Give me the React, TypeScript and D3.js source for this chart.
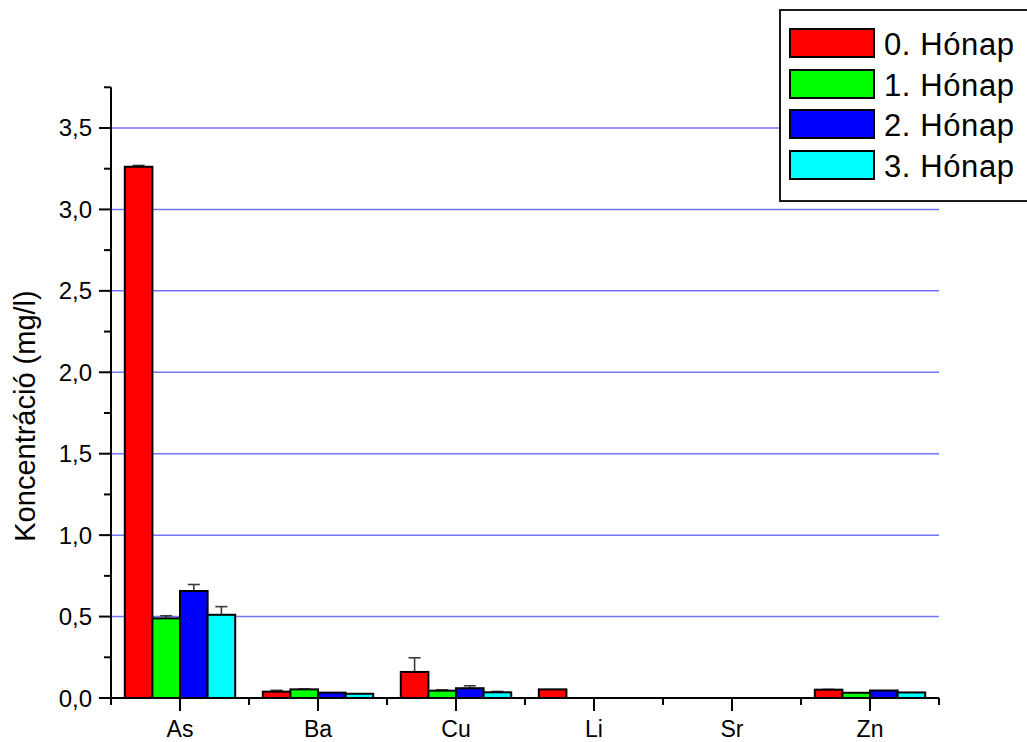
import React from "react";
import * as d3 from "d3";

const categories = ["As", "Ba", "Cu", "Li", "Sr", "Zn"];
const seriesNames = ["0. Hónap", "1. Hónap", "2. Hónap", "3. Hónap"];
const seriesColors = ["#ff0000", "#00ff00", "#0000ff", "#00ffff"];
const month0 = [3.262, 0.039, 0.16, 0.053, 0, 0.051];
const month1 = [0.489, 0.053, 0.045, 0, 0, 0.032];
const month2 = [0.657, 0.033, 0.06, 0, 0, 0.046];
const month3 = [0.511, 0.026, 0.035, 0, 0, 0.034];
const err0 = [0.008, 0.008, 0.087, 0, 0, 0.002];
const err1 = [0.016, 0.002, 0.005, 0, 0, 0];
const err2 = [0.04, 0, 0.015, 0, 0, 0];
const err3 = [0.05, 0, 0.005, 0, 0, 0];
const yMajorTicks = [0, 0.5, 1, 1.5, 2, 2.5, 3, 3.5];
const yMinorTicks = [0.25, 0.75, 1.25, 1.75, 2.25, 2.75, 3.25, 3.75];

const values = [month0, month1, month2, month3];
const errors = [err0, err1, err2, err3];

const FONT = "'Liberation Sans', Arial, sans-serif";

export default function App() {
  const left = 111, right = 939, bottom = 698;
  const x = d3.scaleBand<string>().domain(categories).range([left, right]).padding(0);
  const bw = x.bandwidth();
  const xs = d3.scaleBand<string>().domain(seriesNames).range([bw * 0.1, bw * 0.9]).padding(0);
  const y = d3.scaleLinear().domain([0, 3.75]).range([bottom, bottom - 3.75 * 162.86]);
  const fmt = (v: number) => d3.format(".1f")(v).replace(".", ",");

  return (
    <svg width={1027} height={742} style={{ position: "absolute", left: 0, top: 0, background: "#fff" }} fontFamily={FONT}>
      {/* gridlines */}
      {yMajorTicks.filter((t) => t > 0).map((t) => (
        <line key={"g" + t} x1={left} x2={right} y1={y(t)} y2={y(t)} stroke="#7474ff" strokeWidth={1.5} />
      ))}
      {/* bars */}
      {values.map((vals, si) =>
        vals.map((v, ci) => {
          if (v <= 0) return null;
          const bx = (x(categories[ci]) as number) + (xs(seriesNames[si]) as number);
          const w = xs.bandwidth();
          const top = y(v);
          const e = errors[si][ci];
          const cx = bx + w / 2;
          return (
            <g key={`b${si}-${ci}`}>
              {e > 0 && (
                <g stroke="#3a3a3a" strokeWidth={1.6}>
                  <line x1={cx} x2={cx} y1={top} y2={y(v + e)} />
                  <line x1={cx - 6} x2={cx + 6} y1={y(v + e)} y2={y(v + e)} />
                </g>
              )}
              <rect x={bx} y={top} width={w} height={bottom - top} fill={seriesColors[si]} stroke="#000" strokeWidth={2} />
            </g>
          );
        })
      )}
      {/* y axis */}
      <line x1={left} x2={left} y1={y(3.75)} y2={bottom} stroke="#000" strokeWidth={2} />
      {yMajorTicks.map((t) => (
        <g key={"yt" + t}>
          <line x1={left - 12} x2={left} y1={y(t)} y2={y(t)} stroke="#000" strokeWidth={2} />
          <text x={92} y={y(t) + 8.5} textAnchor="end" fontSize={24} fill="#000">
            {fmt(t)}
          </text>
        </g>
      ))}
      {yMinorTicks.map((t) => (
        <line key={"ym" + t} x1={left - 7} x2={left} y1={y(t)} y2={y(t)} stroke="#000" strokeWidth={2} />
      ))}
      {/* x axis */}
      <line x1={left} x2={right} y1={bottom} y2={bottom} stroke="#000" strokeWidth={2} />
      {categories.map((c) => {
        const cx = (x(c) as number) + bw / 2;
        return (
          <g key={"xt" + c}>
            <line x1={cx} x2={cx} y1={bottom} y2={bottom + 13} stroke="#000" strokeWidth={2} />
            <text x={cx} y={737} textAnchor="middle" fontSize={23} fill="#000">
              {c}
            </text>
          </g>
        );
      })}
      {categories.concat(["_end"]).map((c, i) => {
        const bx = left + i * bw;
        return <line key={"xm" + i} x1={bx} x2={bx} y1={bottom} y2={bottom + 7} stroke="#000" strokeWidth={2} />;
      })}
      {/* y axis title */}
      <text transform={`translate(35,${416}) rotate(-90)`} textAnchor="middle" fontSize={29} fill="#000">
        Koncentráció (mg/l)
      </text>
      {/* legend */}
      <rect x={780} y={10} width={260} height={191} fill="#fff" stroke="#1a1a1a" strokeWidth={2} />
      {seriesNames.map((s, i) => {
        const tops = [29, 70, 110, 151];
        return (
          <g key={"lg" + s}>
            <rect x={790} y={tops[i]} width={84} height={28} fill={seriesColors[i]} stroke="#000" strokeWidth={2} />
            <text x={884} y={tops[i] + 26} fontSize={31} letterSpacing={0.6} fill="#000">
              {s}
            </text>
          </g>
        );
      })}
    </svg>
  );
}
